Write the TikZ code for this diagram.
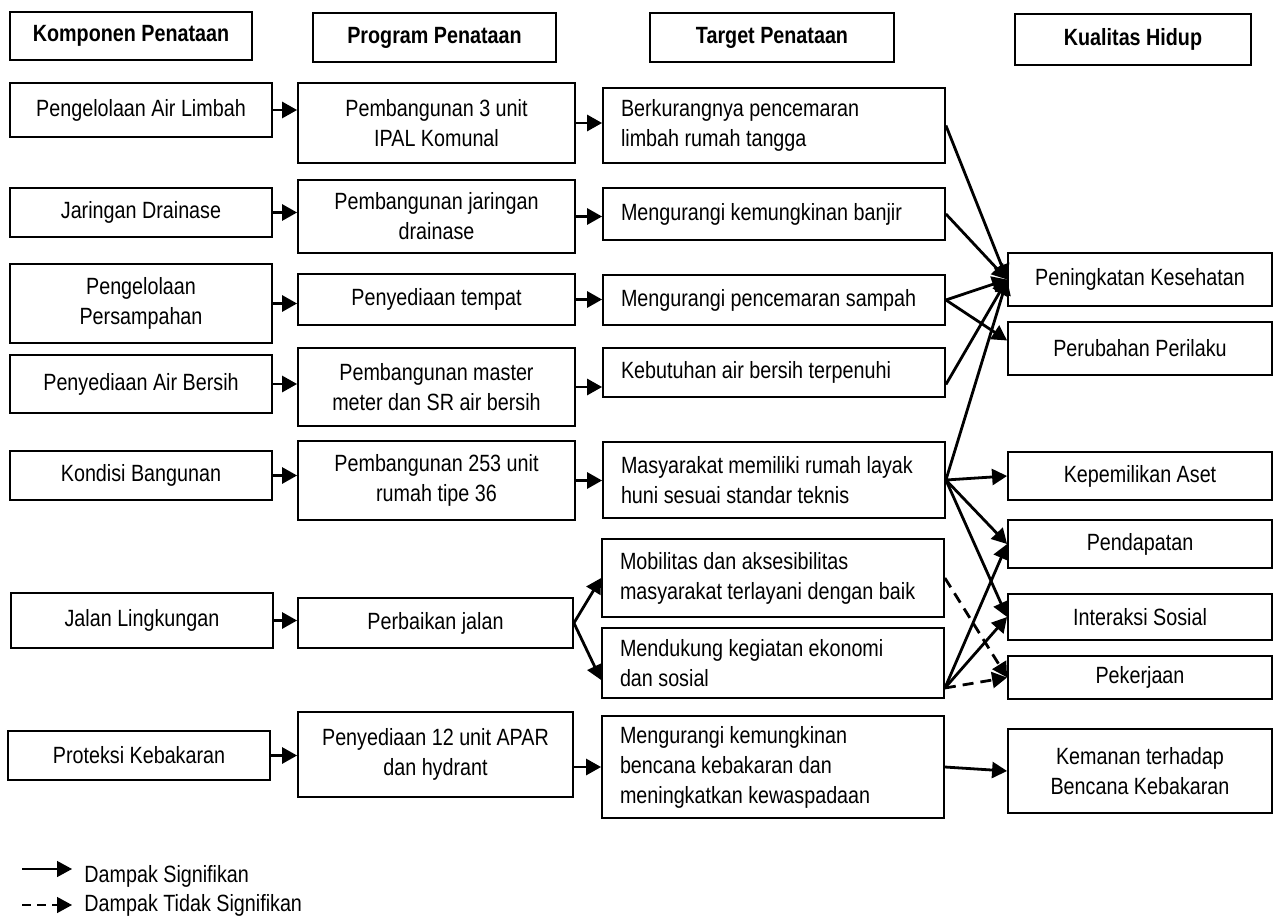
\documentclass[tikz,border=0pt]{standalone}
\usepackage{fontspec}
\setmainfont{Liberation Sans}[FakeStretch=0.84]
\usetikzlibrary{arrows.meta}

\begin{document}
\begin{tikzpicture}[->,>={Triangle[length=15pt,width=16pt]},x=1pt,y=-1pt,
                    line width=2.8pt,
                    every node/.style={font=\fontsize{23.5}{30}\selectfont},
                    headbox/.style={draw,line width=1.8pt,inner sep=0pt,
                      font=\fontsize{23.5}{30}\selectfont\bfseries},
                    kbox/.style={draw,line width=1.8pt,inner sep=0pt,
                      minimum width=262pt,align=center},
                    pbox/.style={draw,line width=1.8pt,inner sep=0pt,
                      minimum width=277pt,align=center},
                    tbox/.style={draw,line width=1.8pt,inner xsep=18pt,
                      inner ysep=0pt,text width=306pt,align=flush left},
                    qbox/.style={draw,line width=1.8pt,inner sep=0pt,
                      minimum width=264pt,align=center},
                    nsig/.style={dash pattern=on 11pt off 7pt}]

  \useasboundingbox (0,0) rectangle (1274,917);

  % judul kolom
  \node[headbox,minimum width=242pt,minimum height=48pt] (h1) at (131,36)    {Komponen Penataan};
  \node[headbox,minimum width=243pt,minimum height=49pt] (h2) at (434.5,37.5) {Program Penataan};
  \node[headbox,minimum width=244pt,minimum height=49pt] (h3) at (772,37.5)  {Target Penataan};
  \node[headbox,minimum width=236pt,minimum height=51pt] (h4) at (1133,39.5) {Kualitas Hidup};

  % komponen
  \node[kbox,minimum height=54pt] (k1) at (141,110)   {Pengelolaan Air Limbah};
  \node[kbox,minimum height=49pt] (k2) at (141,212.5) {Jaringan Drainase};
  \node[kbox,minimum height=79pt] (k3) at (141,303.5) {Pengelolaan\\Persampahan};
  \node[kbox,minimum height=58pt] (k4) at (141,384)   {Penyediaan Air Bersih};
  \node[kbox,minimum height=49pt] (k5) at (141,475.5) {Kondisi Bangunan};
  \node[kbox,minimum height=55pt] (k6) at (142,620.5) {Jalan Lingkungan};
  \node[kbox,minimum height=49pt] (k7) at (139,755.5) {Proteksi Kebakaran};

  % program
  \node[pbox,minimum height=80pt] (p1) at (436.5,123)   {Pembangunan 3 unit\\IPAL Komunal};
  \node[pbox,minimum height=73pt] (p2) at (436.5,216.5) {Pembangunan jaringan\\drainase};
  \node[pbox,minimum height=51pt] (p3) at (436.5,299.5) {Penyediaan tempat};
  \node[pbox,minimum height=78pt] (p4) at (436.5,387)   {Pembangunan master\\meter dan SR air bersih};
  \node[pbox,minimum height=79pt] (p5) at (436.5,480.5) {Pembangunan 253 unit\\rumah tipe 36};
  \node[pbox,minimum height=50pt,minimum width=275pt] (p6) at (435.5,623) {Perbaikan jalan};
  \node[pbox,minimum height=85pt,minimum width=275pt] (p7) at (435.5,754.5) {Penyediaan 12 unit APAR\\dan hydrant};

  % target
  \node[tbox,minimum height=75pt]  (t1) at (774,125.5) {Berkurangnya pencemaran\\limbah rumah tangga};
  \node[tbox,minimum height=52pt]  (t2) at (774,214)   {Mengurangi kemungkinan banjir};
  \node[tbox,minimum height=50pt]  (t3) at (774,300)   {Mengurangi pencemaran sampah};
  \node[tbox,minimum height=49pt]  (t4) at (774,372.5) {Kebutuhan air bersih terpenuhi};
  \node[tbox,minimum height=76pt]  (t5) at (774,480)   {Masyarakat memiliki rumah layak\\huni sesuai standar teknis};
  \node[tbox,minimum height=78pt]  (t6) at (773,578)   {Mobilitas dan aksesibilitas\\masyarakat terlayani dengan baik};
  \node[tbox,minimum height=70pt]  (t7) at (773,663)   {Mendukung kegiatan ekonomi\\dan sosial};
  \node[tbox,minimum height=102pt] (t8) at (773,767)   {Mengurangi kemungkinan\\bencana kebakaran dan\\meningkatkan kewaspadaan};

  % kualitas hidup
  \node[qbox,minimum height=53pt] (q1) at (1140,279.5) {Peningkatan Kesehatan};
  \node[qbox,minimum height=53pt] (q2) at (1140,348.5) {Perubahan Perilaku};
  \node[qbox,minimum height=48pt] (q3) at (1140,476)   {Kepemilikan Aset};
  \node[qbox,minimum height=48pt] (q4) at (1140,544)   {Pendapatan};
  \node[qbox,minimum height=46pt] (q5) at (1140,617)   {Interaksi Sosial};
  \node[qbox,minimum height=43pt] (q6) at (1140,677.5) {Pekerjaan};
  \node[qbox,minimum height=84pt] (q7) at (1140,771)   {Kemanan terhadap\\Bencana Kebakaran};

  \path (k1.east) edge (k1.east -| p1.west)
        (k2.east) edge (k2.east -| p2.west)
        (k3.east) edge (k3.east -| p3.west)
        (k4.east) edge (k4.east -| p4.west)
        (k5.east) edge (k5.east -| p5.west)
        (k6.east) edge (k6.east -| p6.west)
        (k7.east) edge (k7.east -| p7.west);

  \path (p1.east) edge (p1.east -| t1.west)
        (p2.east) edge (p2.east -| t2.west)
        (p3.east) edge (p3.east -| t3.west)
        (p4.east) edge (p4.east -| t4.west)
        (p5.east) edge (p5.east -| t5.west)
        (p6.east) edge (t6.west)
                  edge ([yshift=-17pt]t7.west)
        (t8.west -| p7.east) edge (t8.west);

  \path (t1.east) edge (q1.west)
        (t2.east) edge (q1.west)
        (t3.east) edge (q1.west)
                  edge ([yshift=8pt]q2.west)
        ([yshift=-12pt]t4.east) edge (q1.west)
        (t5.east) edge (q1.west)
                  edge (q3.west)
                  edge (q4.west)
                  edge (q5.west)
        (t6.east) edge[nsig] (q6.west)
        ([yshift=-25pt]t7.east) edge (q4.west)
                  edge (q5.west)
                  edge[nsig] (q6.west)
        (t8.east) edge (q7.west);

  % keterangan
  \coordinate (s1) at (22,869);
  \coordinate (s2) at (22,905);
  \node[anchor=base west,inner sep=0pt] (l1) at (83,882) {Dampak Signifikan};
  \node[anchor=base west,inner sep=0pt] (l2) at (83,911) {Dampak Tidak Signifikan};
  \draw[line width=1.4pt,shorten >=11pt] (s1) -- (s1 -| l1.west);
  \draw[line width=1.4pt,shorten >=11pt,dash pattern=on 9pt off 6pt] (s2) -- (s2 -| l2.west);
\end{tikzpicture}
\end{document}
